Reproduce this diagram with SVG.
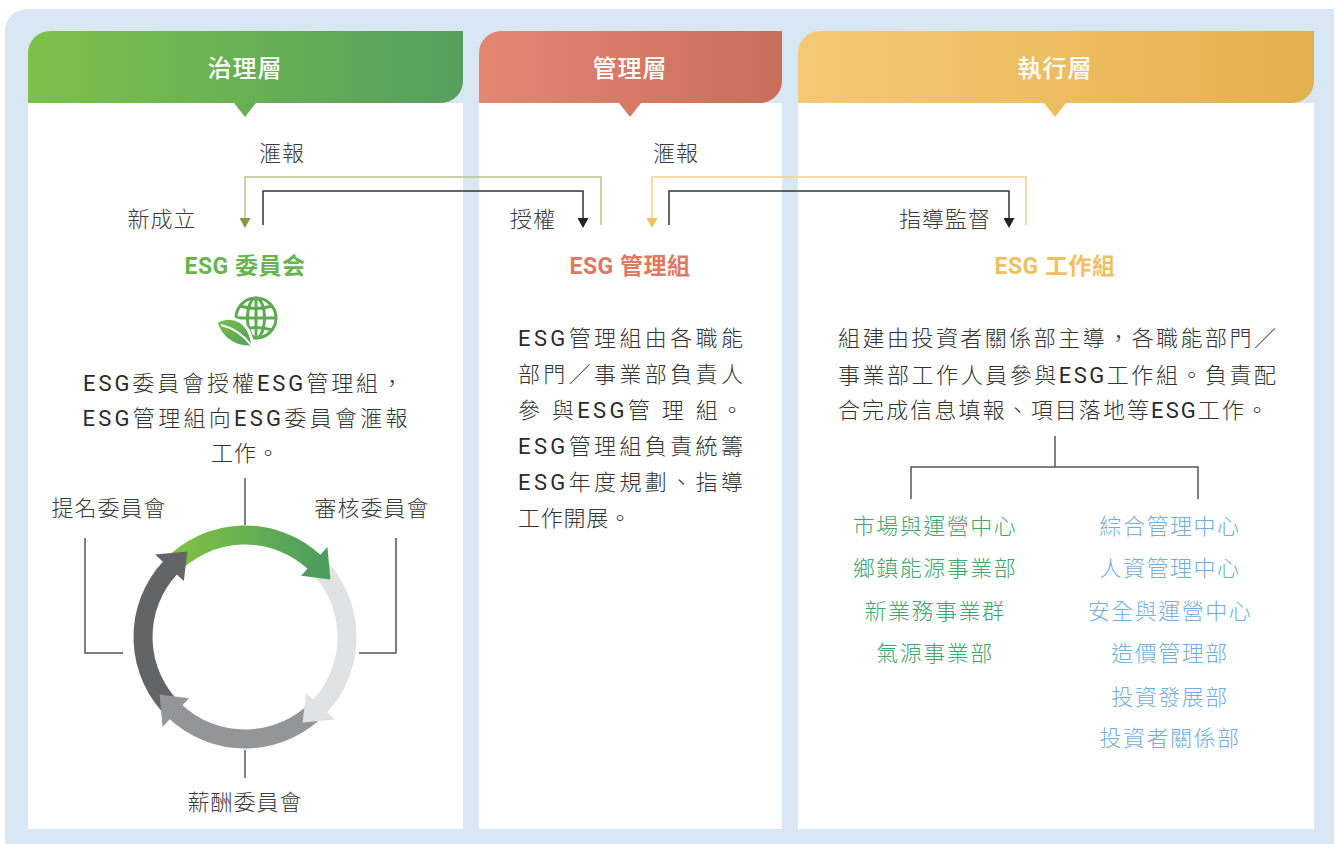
<svg xmlns="http://www.w3.org/2000/svg" width="1335" height="844" viewBox="0 0 1335 844">
<defs>
<linearGradient id="gGreen" x1="0" y1="0" x2="1" y2="0"><stop offset="0" stop-color="#7cc14a"/><stop offset="1" stop-color="#559f5e"/></linearGradient>
<linearGradient id="gRed" x1="0" y1="0" x2="1" y2="0"><stop offset="0" stop-color="#e38672"/><stop offset="1" stop-color="#c96e5b"/></linearGradient>
<linearGradient id="gYel" x1="0" y1="0" x2="1" y2="0"><stop offset="0" stop-color="#f5c974"/><stop offset="1" stop-color="#e4b04d"/></linearGradient>
<linearGradient id="gRing" gradientUnits="userSpaceOnUse" x1="171" y1="0" x2="320" y2="0"><stop offset="0" stop-color="#80c343"/><stop offset="1" stop-color="#4f9d5d"/></linearGradient>
<linearGradient id="gLeaf" x1="0" y1="0" x2="1" y2="1"><stop offset="0" stop-color="#7cc14a"/><stop offset="1" stop-color="#4f9d5d"/></linearGradient>
<marker id="mBlack" viewBox="0 0 10 11" refX="0" refY="5.5" markerWidth="10" markerHeight="11" markerUnits="userSpaceOnUse" orient="auto"><path d="M0,0 L10,5.5 L0,11 Z" fill="#222"/></marker>
<marker id="mOlive" viewBox="0 0 10 11" refX="0" refY="5.5" markerWidth="10" markerHeight="11" markerUnits="userSpaceOnUse" orient="auto"><path d="M0,0 L10,5.5 L0,11 Z" fill="#7f9c3e"/></marker>
<marker id="mYel" viewBox="0 0 10 11" refX="0" refY="5.5" markerWidth="10" markerHeight="11" markerUnits="userSpaceOnUse" orient="auto"><path d="M0,0 L10,5.5 L0,11 Z" fill="#f0c05e"/></marker>
</defs>
<style>
text{font-family:Roboto,"Noto Sans CJK TC","Noto Sans CJK SC",sans-serif;}
.hd{font-size:24px;font-weight:500;fill:#ffffff;text-anchor:middle;letter-spacing:1px;}
.lbl{font-size:22px;font-weight:300;fill:#3a3a3a;text-anchor:middle;letter-spacing:1px;}
.ttl{font-size:23px;font-weight:700;text-anchor:middle;letter-spacing:0.5px;}
.body{font-size:22px;font-weight:300;fill:#333333;}
.e{font-weight:400;fill:#2a2a2a;}
.mid{text-anchor:middle;}
.lg{font-size:22px;font-weight:300;fill:#3ea56e;text-anchor:middle;letter-spacing:1.5px;}
.lb{font-size:22px;font-weight:300;fill:#72ade0;text-anchor:middle;letter-spacing:1.5px;}
.ln{fill:none;stroke:#555;stroke-width:1.5;}
.ring{fill:none;stroke-width:19;}
</style>
<path d="M5,844 V31 A22,22 0 0 1 27,9 H1334 V844 Z" fill="#d9e6f3"/>
<rect x="28" y="103" width="435" height="726" fill="#ffffff"/>
<rect x="479" y="103" width="303" height="726" fill="#ffffff"/>
<rect x="798" y="103" width="516" height="726" fill="#ffffff"/>

<g id="header-governance">
<path d="M28,103 V53 A22,22 0 0 1 50,31 H463 V81 A22,22 0 0 1 441,103 H256 L245,117 L234,103 Z" fill="url(#gGreen)"/>
<text class="hd" x="245" y="77">治理層</text>
</g>
<g id="header-management">
<path d="M479,103 V53 A22,22 0 0 1 501,31 H782 V81 A22,22 0 0 1 760,103 H641 L630,117 L619,103 Z" fill="url(#gRed)"/>
<text class="hd" x="630" y="77">管理層</text>
</g>
<g id="header-execution">
<path d="M798,103 V53 A22,22 0 0 1 820,31 H1314 V81 A22,22 0 0 1 1292,103 H1066 L1055,117 L1044,103 Z" fill="url(#gYel)"/>
<text class="hd" x="1055" y="77">執行層</text>
</g>

<g id="connectors">
<polyline points="601,225 601,177 245,177 245,218" fill="none" stroke="#b3c68c" stroke-width="1.5" marker-end="url(#mOlive)"/>
<polyline points="263,225 263,191 583,191 583,218" fill="none" stroke="#333" stroke-width="1.5" marker-end="url(#mBlack)"/>
<polyline points="1026,225 1026,177 652,177 652,218" fill="none" stroke="#f4d08c" stroke-width="1.5" marker-end="url(#mYel)"/>
<polyline points="669,225 669,191 1009,191 1009,218" fill="none" stroke="#333" stroke-width="1.5" marker-end="url(#mBlack)"/>
<line class="ln" x1="245" y1="478" x2="245" y2="525"/>
<polyline class="ln" points="85,538 85,653 123,653"/>
<polyline class="ln" points="396,538 396,653 359,653"/>
<line class="ln" x1="245" y1="750" x2="245" y2="778"/>
<polyline class="ln" points="1055,436 1055,467"/>
<polyline class="ln" points="911,499 911,467 1198,467 1198,499"/>
</g>

<g id="connector-labels">
<text class="lbl" x="282" y="161">滙報</text>
<text class="lbl" x="162" y="227">新成立</text>
<text class="lbl" x="533" y="227">授權</text>
<text class="lbl" x="676" y="161">滙報</text>
<text class="lbl" x="945" y="227">指導監督</text>
</g>

<g id="node-esg-committee">
<text class="ttl" x="245" y="274" fill="#68b451">ESG 委員会</text>
<g id="icon-globe">
<g fill="none" stroke="#5cab50" stroke-width="3">
<circle cx="256" cy="318" r="20"/>
<ellipse cx="256" cy="318" rx="8.5" ry="20"/>
<line x1="256" y1="298" x2="256" y2="338"/>
<line x1="236" y1="318" x2="276" y2="318"/>
<path d="M240,306 Q256,311 272,306"/>
<path d="M240,330 Q256,325 272,330"/>
</g>
<path d="M216,322 C232,313 250,320 253,347 C236,348 221,340 216,322 Z" fill="url(#gLeaf)" stroke="#ffffff" stroke-width="3"/>
<path d="M221,325 C234,328 244,336 251,345" fill="none" stroke="#ffffff" stroke-width="2"/>
</g>
<text class="body mid" x="243" y="391" textLength="320" lengthAdjust="spacing"><tspan class="e">ESG</tspan>委員會授權<tspan class="e">ESG</tspan>管理組，</text>
<text class="body mid" x="245" y="426" textLength="325" lengthAdjust="spacing"><tspan class="e">ESG</tspan>管理組向<tspan class="e">ESG</tspan>委員會滙報</text>
<text class="body mid" x="245" y="461" textLength="68" lengthAdjust="spacing">工作。</text>
</g>

<g id="node-cycle">
<path class="ring" stroke="url(#gRing)" d="M171.01,566.78 A102,102 0 0 1 314.56,562.40"/>
<path class="ring" stroke="#e1e2e3" d="M315.22,563.01 A102,102 0 0 1 319.60,706.56"/>
<path class="ring" stroke="#939598" d="M318.99,707.22 A102,102 0 0 1 175.44,711.60"/>
<path class="ring" stroke="#636466" d="M174.78,710.99 A102,102 0 0 1 170.40,567.44"/>
<polygon points="301.07,575.81 327.42,547.05 330.39,579.40" fill="#4f9d5c"/>
<polygon points="306.19,693.07 334.95,719.42 302.60,722.39" fill="#e1e2e3"/>
<polygon points="188.93,698.19 162.58,726.95 159.61,694.60" fill="#939598"/>
<polygon points="183.81,580.93 155.05,554.58 187.40,551.61" fill="#636466"/>
</g>
<g id="node-nomination"><text class="lbl" x="109" y="516">提名委員會</text></g>
<g id="node-audit"><text class="lbl" x="372" y="516">審核委員會</text></g>
<g id="node-remuneration"><text class="lbl" x="245" y="810">薪酬委員會</text></g>

<g id="node-esg-management">
<text class="ttl" x="630" y="274" fill="#dc7a62">ESG 管理組</text>
<text class="body" x="518" y="346" textLength="225" lengthAdjust="spacing"><tspan class="e">ESG</tspan>管理組由各職能</text>
<text class="body" x="518" y="382" textLength="225" lengthAdjust="spacing">部門／事業部負責人</text>
<text class="body" x="518" y="418" textLength="225" lengthAdjust="spacing">參 與<tspan class="e">ESG</tspan>管 理 組。</text>
<text class="body" x="518" y="454" textLength="225" lengthAdjust="spacing"><tspan class="e">ESG</tspan>管理組負責統籌</text>
<text class="body" x="518" y="490" textLength="225" lengthAdjust="spacing"><tspan class="e">ESG</tspan>年度規劃、指導</text>
<text class="body" x="518" y="526" textLength="113" lengthAdjust="spacing">工作開展。</text>
</g>

<g id="node-esg-working">
<text class="ttl" x="1055" y="274" fill="#f0c05f">ESG 工作組</text>
<text class="body" x="838" y="346" textLength="438" lengthAdjust="spacing">組建由投資者關係部主導，各職能部門／</text>
<text class="body" x="838" y="383" textLength="438" lengthAdjust="spacing">事業部工作人員參與<tspan class="e">ESG</tspan>工作組。負責配</text>
<text class="body" x="838" y="418" textLength="430" lengthAdjust="spacing">合完成信息填報、項目落地等<tspan class="e">ESG</tspan>工作。</text>
</g>

<g id="node-list-left">
<text class="lg" x="935" y="534">市場與運營中心</text>
<text class="lg" x="935" y="576">鄉鎮能源事業部</text>
<text class="lg" x="935" y="619">新業務事業群</text>
<text class="lg" x="935" y="661">氣源事業部</text>
</g>
<g id="node-list-right">
<text class="lb" x="1170" y="534">綜合管理中心</text>
<text class="lb" x="1170" y="576">人資管理中心</text>
<text class="lb" x="1170" y="619">安全與運營中心</text>
<text class="lb" x="1170" y="661">造價管理部</text>
<text class="lb" x="1170" y="705">投資發展部</text>
<text class="lb" x="1170" y="746">投資者關係部</text>
</g>
</svg>
